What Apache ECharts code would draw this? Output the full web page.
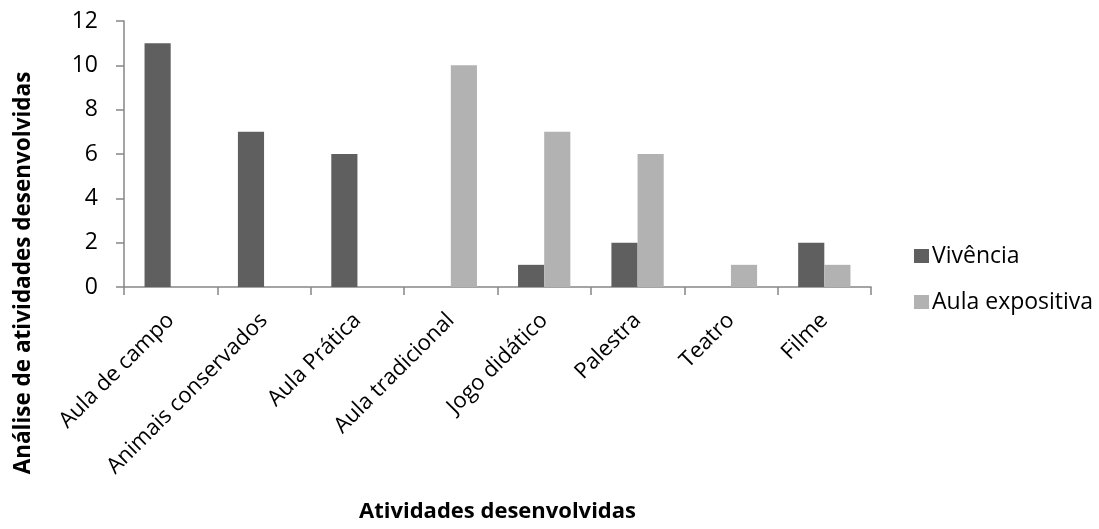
<!DOCTYPE html>
<html>
<head>
<meta charset="utf-8">
<script src="https://cdn.jsdelivr.net/npm/echarts@6/dist/echarts.min.js"></script>
<style>
  html, body { margin: 0; padding: 0; background: #ffffff; }
  #chart { width: 1099px; height: 529px; }
</style>
</head>
<body>
<div id="chart"></div>
<script>
// Activities and how often each was carried out, by type of approach
const categories = ['Aula de campo', 'Animais conservados', 'Aula Prática', 'Aula tradicional',
                    'Jogo didático', 'Palestra', 'Teatro', 'Filme'];
const vivencia = [11, 7, 6, 0, 1, 2, 0, 2];
const aulaExpositiva = [0, 0, 0, 10, 7, 6, 1, 1];
const yTicks = { min: 0, max: 12, interval: 2 };

const FONT = '"Open Sans", "Noto Sans", sans-serif';
const AXIS_GRAY = '#868686';

const chart = echarts.init(document.getElementById('chart'), null, { renderer: 'canvas' });

chart.setOption({
  animation: false,
  backgroundColor: '#ffffff',
  textStyle: { fontFamily: FONT },
  grid: { left: 124, right: 228, top: 21, bottom: 242, containLabel: false },
  legend: {
    orient: 'vertical',
    left: 914,
    top: 244,
    padding: 0,
    itemWidth: 15,
    itemHeight: 14,
    itemGap: 22,
    icon: 'rect',
    textStyle: { fontFamily: FONT, fontSize: 23, color: '#000000', lineHeight: 24, padding: [0, 0, 0, -2] },
    data: ['Vivência', 'Aula expositiva']
  },
  xAxis: {
    type: 'category',
    data: categories,
    boundaryGap: true,
    name: 'Atividades desenvolvidas',
    nameLocation: 'middle',
    nameGap: 214,
    nameTextStyle: { fontFamily: FONT, fontSize: 22, fontWeight: 'bold', color: '#000000' },
    axisLine: { show: true, lineStyle: { color: AXIS_GRAY, width: 1.5 } },
    axisTick: { show: true, length: 8, lineStyle: { color: AXIS_GRAY, width: 1.5 } },
    axisLabel: {
      rotate: 45,
      margin: 30,
      interval: 0,
      fontFamily: FONT,
      fontSize: 22,
      color: '#000000'
    },
    splitLine: { show: false }
  },
  yAxis: {
    type: 'value',
    min: yTicks.min,
    max: yTicks.max,
    interval: yTicks.interval,
    axisLine: { show: true, lineStyle: { color: AXIS_GRAY, width: 1.5 } },
    axisTick: { show: true, length: 8, lineStyle: { color: AXIS_GRAY, width: 1.5 } },
    axisLabel: { margin: 26, fontFamily: FONT, fontSize: 23, color: '#000000' },
    splitLine: { show: false }
  },
  graphic: [{
    type: 'text',
    x: 24,
    y: 273,
    rotation: Math.PI / 2,
    style: {
      text: 'Análise de atividades desenvolvidas',
      fontFamily: FONT,
      fontSize: 22.5,
      fontWeight: 'bold',
      fill: '#000000',
      align: 'center',
      verticalAlign: 'middle'
    }
  }],
  series: [
    {
      name: 'Vivência',
      type: 'bar',
      data: vivencia,
      barGap: '0%',
      barCategoryGap: '44%',
      itemStyle: { color: '#5f5f5f' }
    },
    {
      name: 'Aula expositiva',
      type: 'bar',
      data: aulaExpositiva,
      barGap: '0%',
      barCategoryGap: '44%',
      itemStyle: { color: '#b2b2b2' }
    }
  ]
});
</script>
</body>
</html>
